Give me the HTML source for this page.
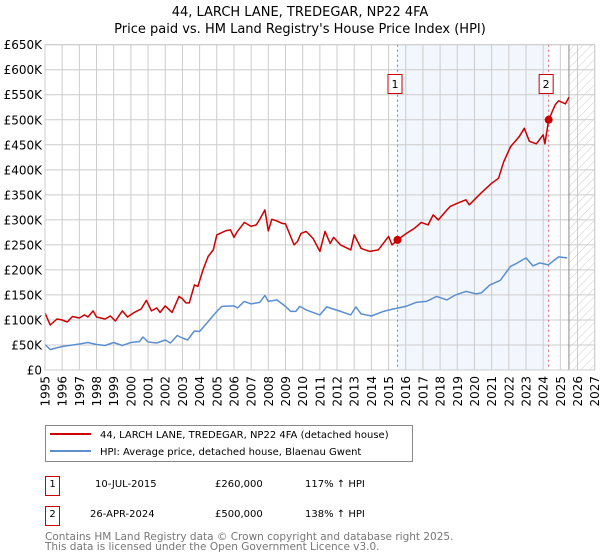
<!DOCTYPE html>
<html><head><meta charset="utf-8"><style>
body{margin:0;background:#fff;}
svg{display:block;font-family:"DejaVu Sans","Liberation Sans",sans-serif;}
</style></head><body>
<svg id="chart" width="600" height="560" viewBox="0 0 600 560">
<text x="300" y="16" text-anchor="middle" font-size="13">44, LARCH LANE, TREDEGAR, NP22 4FA</text>
<text x="300" y="33" text-anchor="middle" font-size="13">Price paid vs. HM Land Registry's House Price Index (HPI)</text>
<g id="plot"></g>
<g>
<rect x="45.5" y="425.5" width="367" height="36" fill="#fff" stroke="#888"/>
<line x1="50" y1="434" x2="91" y2="434" stroke="#cc0000" stroke-width="2"/>
<text x="100" y="438" font-size="10">44, LARCH LANE, TREDEGAR, NP22 4FA (detached house)</text>
<line x1="50" y1="451" x2="91" y2="451" stroke="#5b8fd0" stroke-width="2"/>
<text x="100" y="455" font-size="10">HPI: Average price, detached house, Blaenau Gwent</text>
</g>
<g>
<rect x="45.5" y="476.5" width="14" height="19" fill="#fff" stroke="#cc0000"/>
<text x="52.5" y="487" font-size="10" text-anchor="middle">1</text>
<text x="95" y="487" font-size="10">10-JUL-2015</text>
<text x="215" y="487" font-size="10">£260,000</text>
<text x="305" y="487" font-size="10">117% ↑ HPI</text>
<rect x="45.5" y="506.5" width="14" height="19" fill="#fff" stroke="#cc0000"/>
<text x="52.5" y="517" font-size="10" text-anchor="middle">2</text>
<text x="90" y="517" font-size="10">26-APR-2024</text>
<text x="215" y="517" font-size="10">£500,000</text>
<text x="305" y="517" font-size="10">138% ↑ HPI</text>
</g>
<text x="45" y="540" font-size="10.5" fill="#777">Contains HM Land Registry data © Crown copyright and database right 2025.</text>
<text x="45" y="550" font-size="10.5" fill="#777">This data is licensed under the Open Government Licence v3.0.</text>
</svg>
<script>
const yTicks=[0,50,100,150,200,250,300,350,400,450,500,550,600,650];
const yTickLabels=["£0","£50K","£100K","£150K","£200K","£250K","£300K","£350K","£400K","£450K","£500K","£550K","£600K","£650K"];
const xYears=[1995,1996,1997,1998,1999,2000,2001,2002,2003,2004,2005,2006,2007,2008,2009,2010,2011,2012,2013,2014,2015,2016,2017,2018,2019,2020,2021,2022,2023,2024,2025,2026,2027];
const hpiT=[1995,1995.3,1996,1997,1997.5,1998,1998.5,1999,1999.5,2000,2000.5,2000.7,2001,2001.5,2002,2002.3,2002.7,2003,2003.3,2003.7,2004,2004.5,2005,2005.3,2006,2006.2,2006.6,2007,2007.5,2007.8,2008,2008.5,2009,2009.3,2009.6,2009.83,2010.2,2011,2011.4,2012.2,2012.8,2013.1,2013.4,2014,2014.7,2015.3,2016,2016.6,2017.2,2017.8,2018.4,2018.9,2019.5,2020.1,2020.4,2020.9,2021.5,2022.1,2022.5,2023,2023.4,2023.8,2024.3,2024.9,2025.4];
const hpiV=[51,41,47,52,55,51,49,55,49,55,57,66,56,54,60,54,69,64,60,78,77,97,117,127,128,124,137,132,135,149,137,140,127,117,117,127,120,110,126,117,110,126,112,108,117,122,127,135,137,147,140,150,157,152,154,170,179,207,214,224,208,214,210,226,224];
const priceT=[1995,1995.3,1995.7,1996,1996.3,1996.6,1997,1997.3,1997.5,1997.8,1998,1998.5,1998.8,1999.1,1999.5,1999.8,2000.2,2000.6,2000.9,2001.2,2001.5,2001.7,2002,2002.4,2002.8,2003,2003.2,2003.4,2003.7,2003.9,2004.2,2004.5,2004.8,2005,2005.5,2005.8,2006,2006.2,2006.6,2007,2007.3,2007.5,2007.8,2008,2008.2,2008.5,2008.8,2009,2009.3,2009.5,2009.7,2009.9,2010.2,2010.6,2011,2011.3,2011.6,2011.8,2012.2,2012.8,2013,2013.4,2013.9,2014.4,2015,2015.2,2015.52,2016,2016.5,2016.9,2017.3,2017.6,2017.9,2018.4,2018.6,2019,2019.5,2019.7,2020.4,2021,2021.4,2021.7,2022.1,2022.6,2022.9,2023.2,2023.6,2024,2024.1,2024.32,2024.7,2024.9,2025.3,2025.5];
const priceV=[114,90,102,100,96,107,104,110,106,118,106,102,108,98,118,106,115,122,139,118,124,115,128,115,147,142,134,134,170,167,200,227,240,270,278,280,265,277,295,287,290,301,320,278,301,298,293,292,267,250,257,273,277,263,237,277,253,265,250,240,270,243,237,240,267,250,260,272,283,295,290,310,300,320,327,333,340,330,354,373,383,416,446,466,483,457,452,470,452,500,530,538,532,545];
const saleT=[2015.52,2024.32];
const saleV=[260,500];
const saleLabels=["1","2"];

const L=45,R=594.7,T=44.7,B=370;
const xs=y=>L+(y-1995)*(R-L)/32;
const ys=v=>B-v*(B-T)/650;
const NS="http://www.w3.org/2000/svg";
const plot=document.getElementById('plot');
function mk(tag,attrs,parent){const e=document.createElementNS(NS,tag);for(const k in attrs)e.setAttribute(k,attrs[k]);(parent||plot).appendChild(e);return e;}

const bg=mk('rect',{x:L,y:T,width:R-L,height:B-T,fill:'#fff'});


const shade=mk('rect',{x:xs(saleT[0]),y:T,width:xs(saleT[1])-xs(saleT[0]),height:B-T,fill:'#eef3fc',opacity:0.75});


const defs=mk('defs',{});
const pat=mk('pattern',{id:'hatch',width:6,height:6,patternUnits:'userSpaceOnUse',patternTransform:'rotate(45)'},defs);
mk('line',{x1:0,y1:0,x2:0,y2:6,stroke:'#ccc','stroke-width':1},pat);
const hx=xs(2025.5);
const hatch=mk('rect',{x:hx,y:T,width:R-hx,height:B-T,fill:'url(#hatch)'});


xYears.forEach(y=>{
  const g=mk('line',{x1:xs(y),x2:xs(y),y1:T,y2:B,stroke:'#ccc','stroke-width':1});
  
  
  const t=mk('text',{x:0,y:0,'font-size':12,'text-anchor':'end',transform:`translate(${xs(y)+4.5},${B+6}) rotate(-90)`});
  t.textContent=y;
  
  
});
yTicks.forEach((v,i)=>{
  const g=mk('line',{x1:L,x2:R,y1:ys(v),y2:ys(v),stroke:'#ccc','stroke-width':1});
  
  
  const t=mk('text',{x:L-3,y:ys(v)+4.5,'font-size':12,'text-anchor':'end'});
  t.textContent=yTickLabels[i];
  
  
});
const nowLine=mk('line',{x1:hx,x2:hx,y1:T,y2:B,stroke:'#888','stroke-width':1});


saleT.forEach((t,i)=>{
  const l=mk('line',{x1:xs(t),x2:xs(t),y1:T,y2:B,stroke:'#e06070','stroke-width':1,'stroke-dasharray':'2,3'});
  
  
});
function path(tArr,vArr,color,name){
  const d=tArr.map((t,i)=>(i?'L':'M')+xs(t).toFixed(1)+','+ys(vArr[i]).toFixed(1)).join('');
  const p=mk('path',{d:d,fill:'none',stroke:color,'stroke-width':1.5,'stroke-linejoin':'round'});
  
  
}
path(hpiT,hpiV,'#5b8fd0','hpi-line');
path(priceT,priceV,'#cc0000','price-line');
saleT.forEach((t,i)=>{
  const c=mk('circle',{cx:xs(t),cy:ys(saleV[i]),r:4,fill:'#cc0000'});
  
  
  const bx=xs(t)-10;
  const b=mk('rect',{x:bx+0.5,y:74.5,width:14,height:19,fill:'#fff',stroke:'#cc0000'});
  
  
  const tx=mk('text',{x:bx+7.5,y:88,'font-size':11,'text-anchor':'middle'});
  tx.textContent=saleLabels[i];
  
  
});
const border=mk('rect',{x:L,y:T,width:R-L,height:B-T,fill:'none',stroke:'#ccc'});


</script>
</body></html>
